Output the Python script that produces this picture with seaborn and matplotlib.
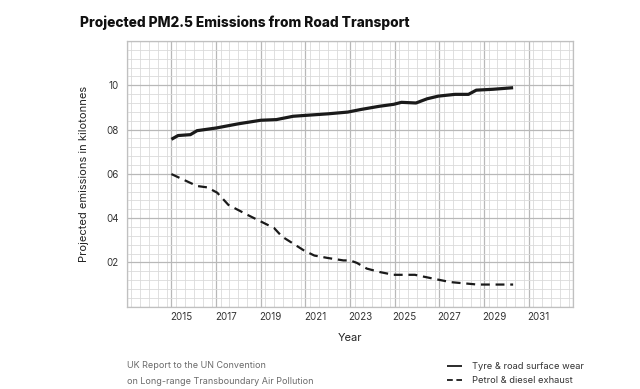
import matplotlib
matplotlib.use("Agg")
import matplotlib.pyplot as plt
import matplotlib.transforms as mtransforms
from matplotlib.ticker import MultipleLocator
from matplotlib.lines import Line2D
import seaborn as sns
import pandas as pd

# ---- data ----
tyre_years = [2015.0, 2015.3, 2015.85, 2016.15, 2017.0, 2018.0, 2019.0, 2019.7, 2020.45,
              2021.0, 2022.0, 2022.9, 2023.5, 2024.3, 2024.95, 2025.3, 2025.95, 2026.45,
              2026.95, 2027.7, 2028.3, 2028.65, 2029.4, 2030.3]
tyre_vals = [0.756, 0.773, 0.777, 0.795, 0.807, 0.826, 0.842, 0.845, 0.860,
             0.864, 0.871, 0.879, 0.891, 0.905, 0.914, 0.923, 0.920, 0.939,
             0.951, 0.959, 0.959, 0.978, 0.982, 0.989]
exhaust_years = [2015.0, 2016.15, 2016.6, 2017.05, 2017.35, 2017.55, 2018.4, 2019.0, 2019.6,
                 2019.95, 2020.45, 2020.95, 2021.4, 2022.0, 2022.7, 2023.0, 2023.3, 2023.75,
                 2024.35, 2024.95, 2025.9, 2026.9, 2027.5, 2028.7, 2030.3]
exhaust_vals = [0.599, 0.545, 0.539, 0.515, 0.482, 0.460, 0.415, 0.385, 0.355,
                0.317, 0.285, 0.253, 0.231, 0.220, 0.209, 0.209, 0.198, 0.172,
                0.156, 0.144, 0.144, 0.123, 0.111, 0.100, 0.100]
series_names = ["Tyre & road surface wear", "Petrol & diesel exhaust"]
x_tick_years = [2013, 2015, 2017, 2019, 2021, 2023, 2025, 2027, 2029, 2031, 2033]
x_tick_labels = ["", "2015", "2017", "2019", "2021", "2023", "2025", "2027", "2029", "2031", ""]
y_tick_vals = [0.0, 0.2, 0.4, 0.6, 0.8, 1.0, 1.2]
y_tick_labels = ["", "02", "04", "06", "08", "10", ""]

df = pd.concat([
    pd.DataFrame({"Year": tyre_years, "Value": tyre_vals, "Series": series_names[0]}),
    pd.DataFrame({"Year": exhaust_years, "Value": exhaust_vals, "Series": series_names[1]}),
], ignore_index=True)

sns.set_theme(style="white")
plt.rcParams["font.family"] = ["Inter", "DejaVu Sans"]

fig = plt.figure(figsize=(6.4, 3.89), dpi=100)
ax = fig.add_axes([0.198, 0.2116, 0.698, 0.683])

sns.lineplot(data=df, x="Year", y="Value", hue="Series", style="Series",
             palette=["#1a1a1a", "#1a1a1a"], dashes={series_names[0]: "", series_names[1]: (4, 2.6)},
             sort=False, estimator=None, legend=False, ax=ax)
lines = ax.get_lines()
lines[0].set_linewidth(2.3)
lines[1].set_linewidth(1.6)
for ln in lines:
    ln.set_solid_capstyle("butt")
    ln.set_dash_capstyle("butt")

ax.set_xlim(2013, 2033)
ax.set_ylim(0, 1.2)
ax.set_xticks(x_tick_years)
ax.set_xticklabels(x_tick_labels)
ax.set_yticks(y_tick_vals)
ax.set_yticklabels(y_tick_labels)
ax.xaxis.set_minor_locator(MultipleLocator(0.4))
ax.yaxis.set_minor_locator(MultipleLocator(0.04))
ax.grid(which="major", color="#b8b8b8", linewidth=0.9)
ax.grid(which="minor", color="#dadada", linewidth=0.6)
ax.set_axisbelow(True)
for s in ax.spines.values():
    s.set_color("#c0c0c0")
    s.set_linewidth(0.9)
ax.tick_params(which="both", length=0, labelsize=7, colors="#333333")
ax.tick_params(axis="x", pad=4)
ax.tick_params(axis="y", pad=6)
offset = mtransforms.ScaledTranslation(10 / 100, 0, fig.dpi_scale_trans)
for lbl in ax.get_xticklabels():
    lbl.set_transform(lbl.get_transform() + offset)

ax.set_xlabel("Year", fontsize=8, color="#222222", labelpad=8)
ax.set_ylabel("Projected emissions in kilotonnes", fontsize=8, color="#222222", labelpad=12)

fig.text(80 / 640, 1 - 23 / 389, "Projected PM2.5 Emissions from Road Transport",
         fontsize=9.9, fontweight="heavy", color="#111111", va="center", ha="left")
fig.text(127 / 640, 1 - 366 / 389, "UK Report to the UN Convention",
         fontsize=6.5, color="#6a6a6a", va="center", ha="left")
fig.text(127 / 640, 1 - 381.5 / 389, "on Long-range Transboundary Air Pollution",
         fontsize=6.5, color="#6a6a6a", va="center", ha="left")

legend_handles = [
    Line2D([], [], color="#1a1a1a", linewidth=1.3, solid_capstyle="butt"),
    Line2D([], [], color="#1a1a1a", linewidth=1.3, dashes=(3.2, 2.0), dash_capstyle="butt"),
]
fig.legend(handles=legend_handles, labels=series_names, loc="center left",
           bbox_to_anchor=(442 / 640, 1 - 373.5 / 389), frameon=False,
           fontsize=6.7, handlelength=1.6, handletextpad=1.1, labelspacing=0.5,
           borderpad=0, labelcolor="#333333")

fig.savefig("out.png", dpi=100, facecolor="white")
